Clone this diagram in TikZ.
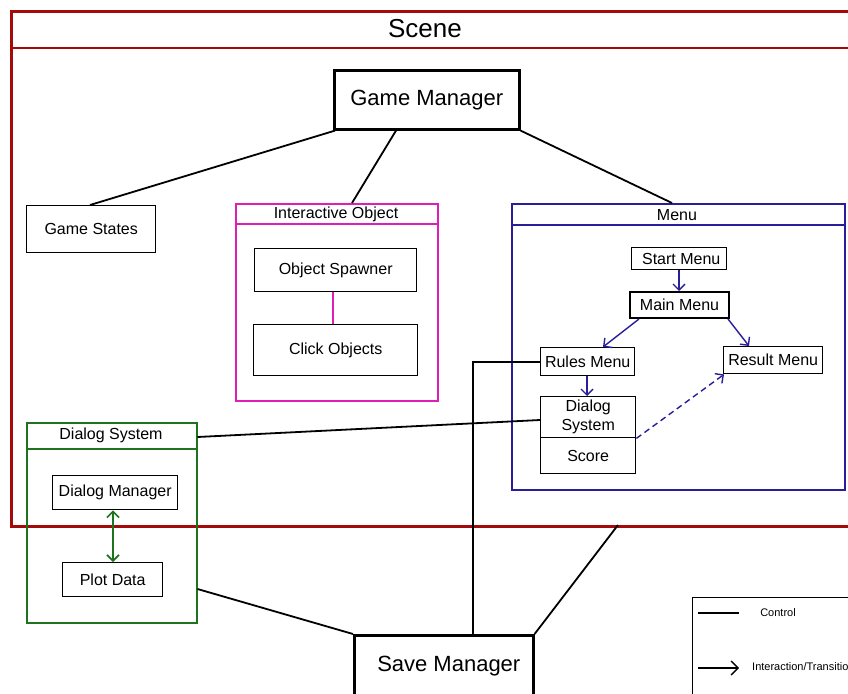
\documentclass[tikz,border=0pt]{standalone}
\usepackage{fontspec}
\setmainfont{Liberation Sans}
\usetikzlibrary{arrows.meta,calc}

\definecolor{scenered}{RGB}{165,10,10}
\definecolor{iomag}{RGB}{222,30,185}
\definecolor{menublue}{RGB}{40,30,155}
\definecolor{dlggreen}{RGB}{30,115,30}

\tikzset{
  lbl/.style={font=\fontsize{16}{18}\selectfont},
  item/.style={draw, line width=1.4pt, inner sep=0pt, anchor=north west, lbl},
  bigitem/.style={draw, line width=2.6pt, inner sep=0pt, anchor=north west,
                  font=\fontsize{22}{24}\selectfont},
  frame/.style={draw, line width=1.5pt, inner sep=0pt, anchor=north west},
  ctrl/.style={line width=1.8pt},
  trans/.style={menublue, line width=1.4pt, -{Straight Barb[length=6pt,width=12pt]}},
  legendtext/.style={font=\fontsize{11}{13}\selectfont},
}

\begin{document}
\begin{tikzpicture}[x=1pt,y=-1pt]
\clip (0,0) rectangle (848,693);
\fill[white] (0,0) rectangle (848,693);

% ---- scene container
\node[frame, draw=scenered, line width=2.6pt, minimum width=870pt, minimum height=515pt] (scene) at (10,10) {};
\draw[scenered, line width=1.6pt] ($(scene.north west)+(0,38)$) -- ($(scene.north east)+(0,38)$);
\node[font=\fontsize{26}{28}\selectfont] (scenetitle) at (425,29) {Scene};

% ---- game manager and its parts
\node[bigitem, minimum width=185pt, minimum height=59pt] (gm) at (333,69) {Game Manager};
\node[item, minimum width=129pt, minimum height=47pt] (states) at (26,205) {Game States};

% interactive object
\node[frame, draw=iomag, minimum width=202pt, minimum height=197pt] (io) at (235,203) {};
\draw[iomag, line width=1.4pt] ($(io.north west)+(0,21)$) -- ($(io.north east)+(0,21)$);
\node[lbl] (iotitle) at (336,214) {Interactive Object};
\node[item, minimum width=162pt, minimum height=43pt] (spawn) at (254,248) {Object Spawner};
\node[item, minimum width=164pt, minimum height=51pt] (click) at (253,324) {Click Objects};
\draw[iomag, line width=1.6pt] (spawn.south -| 333,0) -- (click.north -| 333,0);

% menu
\node[frame, draw=menublue, minimum width=333pt, minimum height=286pt] (menu) at (511,203) {};
\draw[menublue, line width=1.4pt] ($(menu.north west)+(0,22)$) -- ($(menu.north east)+(0,22)$);
\node[lbl] (menutitle) at (677,215) {Menu};
\node[item, minimum width=95pt, minimum height=22pt] (start) at (631,247) {\hspace{4pt}Start Menu};
\node[item, line width=2pt, minimum width=99pt, minimum height=26pt] (main) at (629,291) {Main Menu};
\node[item, minimum width=94pt, minimum height=28pt] (rules) at (540,347) {Rules Menu};
\node[item, minimum width=99pt, minimum height=27pt] (result) at (723,346) {Result Menu};
\node[item, minimum width=95pt, minimum height=41pt, align=center,
      font=\fontsize{16}{19}\selectfont] (mdlg) at (540,396) {Dialog\\System};
\node[item, minimum width=95pt, minimum height=36pt] (score) at (540,437) {Score};

\draw[trans] (start.south -| 679,0) -- (main.north -| 679,0);
\draw[trans] ($(main.south west)+(10,0)$) -- ($(rules.north west)+(63,0)$);
\draw[trans] ($(main.south east)+(-2,0)$) -- ($(result.north west)+(26,0)$);
\draw[trans] (rules.south -| 587,0) -- (mdlg.north -| 587,0);
\draw[trans, dash pattern=on 6pt off 4pt] (mdlg.south east) -- ($(result.south west)+(1,0)$);

% dialog system
\node[frame, draw=dlggreen, minimum width=170pt, minimum height=200pt] (dlg) at (26,422) {};
\draw[dlggreen, line width=1.4pt] ($(dlg.north west)+(0,27)$) -- ($(dlg.north east)+(0,27)$);
\node[lbl] (dlgtitle) at (111,435) {Dialog System};
\node[item, minimum width=125pt, minimum height=34pt] (dmgr) at (52,475) {Dialog Manager};
\node[item, minimum width=100pt, minimum height=34pt] (plot) at (62,562) {Plot Data};
\draw[dlggreen, line width=1.6pt, {Straight Barb[length=6pt,width=12pt]}-{Straight Barb[length=6pt,width=12pt]}]
  (dmgr.south -| 113,0) -- (plot.north -| 113,0);

% save manager
\node[bigitem, minimum width=179pt, minimum height=62pt] (save) at (353,634) {\hspace{10pt}Save Manager};
\coordinate (scenebase) at (618,525);

% ---- control connectors
\draw[ctrl] ($(gm.south west)+(2,0)$) -- ($(states.north west)+(64,0)$);
\draw[ctrl] ($(gm.south west)+(63,0)$) -- ($(io.north west)+(117,0)$);
\draw[ctrl] (gm.south east) -- ($(menu.north west)+(161,0)$);
\draw[ctrl] (rules.west |- 0,362) -- (473,362) -- (save.north -| 473,0);
\draw[ctrl] (mdlg.west |- 0,420) -- (dlg.east |- 0,437);
\draw[ctrl] (dlg.east |- 0,589) -- (save.north west);
\draw[ctrl] (save.north east) -- (scenebase);

% ---- legend
\node[frame, draw=black, line width=1.2pt, minimum width=200pt, minimum height=150pt] (legend) at (692,597) {};
\coordinate (ca) at (698,613);
\coordinate (cb) at (739,613);
\draw[line width=1.4pt] (ca) -- (cb);
\node[legendtext] (ctrltext) at (778,613) {Control};
\coordinate (ta) at (698,668);
\coordinate (tb) at (739,668);
\draw[line width=1.4pt, -{Straight Barb[length=7pt,width=14pt]}] (ta) -- (tb);
\node[legendtext, anchor=west, inner sep=0pt] (transtext) at (752,667) {Interaction/Transition};
\end{tikzpicture}
\end{document}
